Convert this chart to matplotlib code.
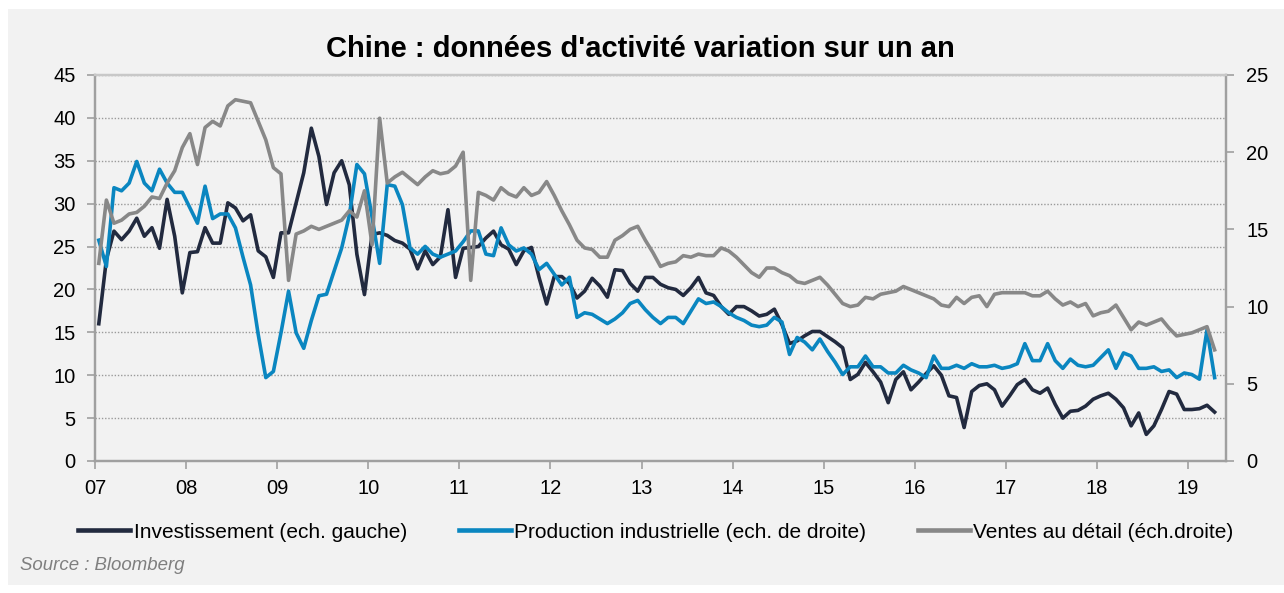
import matplotlib.pyplot as plt
import numpy as np
from matplotlib.patches import Rectangle
from matplotlib.lines import Line2D

plt.rcParams['font.family'] = ['Liberation Sans', 'DejaVu Sans']

title = "Chine : données d'activité variation sur un an"
years = ['07', '08', '09', '10', '11', '12', '13', '14', '15', '16', '17', '18', '19']
labels = ['Investissement (ech. gauche)',
          'Production industrielle (ech. de droite)',
          'Ventes au détail (éch.droite)']
colors = ['#222a3f', '#0a86c0', '#888888']

# monthly values, jan 2007 -> apr 2019
investissement = [
    16.0, 23.5, 26.8, 25.8, 26.8, 28.3, 26.2, 27.2, 24.8, 30.5, 26.2, 19.6,
    24.3, 24.4, 27.2, 25.4, 25.4, 30.1, 29.5, 28.0, 28.7, 24.5, 23.8, 21.4,
    26.6, 26.6, 30.1, 33.6, 38.8, 35.5, 29.9, 33.6, 35.0, 32.2, 24.1, 19.4,
    26.4, 26.6, 26.3, 25.7, 25.4, 24.7, 22.4, 24.5, 22.9, 23.8, 29.3, 21.4,
    24.8, 24.9, 25.0, 26.0, 26.8, 25.2, 24.7, 22.9, 24.5, 24.9, 21.4, 18.3,
    21.5, 21.5, 20.7, 19.0, 19.8, 21.3, 20.4, 19.1, 22.3, 22.2, 20.7, 19.8,
    21.4, 21.4, 20.6, 20.2, 20.0, 19.3, 20.2, 21.4, 19.6, 19.3, 18.0, 17.1,
    18.0, 18.0, 17.5, 16.9, 17.1, 17.7, 15.9, 13.7, 14.0, 14.6, 15.1, 15.1,
    14.5, 13.9, 13.2, 9.5, 10.1, 11.5, 10.4, 9.2, 6.8, 9.5, 10.4, 8.3,
    9.2, 10.2, 11.1, 10.0, 7.6, 7.4, 3.9, 8.1, 8.8, 9.0, 8.3, 6.4,
    7.6, 8.9, 9.5, 8.3, 7.9, 8.5, 6.6, 5.0, 5.8, 5.9, 6.4, 7.2,
    7.6, 7.9, 7.2, 6.2, 4.1, 5.6, 3.1, 4.1, 6.0, 8.1, 7.8, 6.0,
    6.0, 6.1, 6.5, 5.7]

production = [
    14.3, 12.6, 17.7, 17.5, 18.0, 19.4, 18.0, 17.5, 18.9, 18.0, 17.4, 17.4,
    16.4, 15.4, 17.8, 15.7, 16.0, 16.0, 15.1, 13.2, 11.4, 8.2, 5.4, 5.8,
    8.3, 11.0, 8.3, 7.3, 9.1, 10.7, 10.8, 12.3, 13.8, 15.9, 19.2, 18.6,
    15.8, 12.8, 17.9, 17.8, 16.6, 13.8, 13.4, 13.9, 13.4, 13.2, 13.4, 13.6,
    14.2, 14.9, 14.9, 13.4, 13.3, 15.1, 14.0, 13.6, 13.8, 13.4, 12.4, 12.8,
    12.1, 11.4, 11.9, 9.3, 9.6, 9.5, 9.2, 8.9, 9.2, 9.6, 10.2, 10.4,
    9.8, 9.3, 8.9, 9.3, 9.3, 8.9, 9.7, 10.5, 10.2, 10.3, 10.0, 9.6,
    9.3, 9.1, 8.8, 8.7, 8.8, 9.3, 9.0, 6.9, 8.0, 7.7, 7.2, 7.9,
    7.1, 6.4, 5.6, 6.1, 6.1, 6.8, 6.1, 6.1, 5.7, 5.7, 6.2, 5.9,
    5.7, 5.4, 6.8, 6.0, 6.0, 6.2, 6.0, 6.3, 6.1, 6.1, 6.2, 6.0,
    6.1, 6.3, 7.6, 6.5, 6.5, 7.6, 6.5, 6.0, 6.6, 6.2, 6.1, 6.2,
    6.7, 7.2, 6.0, 7.0, 6.8, 6.0, 6.0, 6.1, 5.8, 5.9, 5.4, 5.7,
    5.6, 5.3, 8.5, 5.4]

ventes = [
    12.8, 16.9, 15.4, 15.6, 16.0, 16.1, 16.5, 17.1, 17.0, 18.0, 18.8, 20.3,
    21.2, 19.2, 21.6, 22.0, 21.7, 23.0, 23.4, 23.3, 23.2, 22.0, 20.8, 19.0,
    18.6, 11.7, 14.7, 14.9, 15.2, 15.0, 15.2, 15.4, 15.6, 16.2, 15.8, 17.5,
    14.0, 22.2, 18.0, 18.4, 18.7, 18.3, 17.9, 18.4, 18.8, 18.6, 18.7, 19.1,
    20.0, 11.7, 17.4, 17.2, 16.9, 17.7, 17.3, 17.1, 17.7, 17.2, 17.4, 18.1,
    17.2, 16.2, 15.3, 14.3, 13.8, 13.7, 13.2, 13.2, 14.3, 14.6, 15.0, 15.2,
    14.3, 13.5, 12.6, 12.8, 12.9, 13.3, 13.2, 13.4, 13.3, 13.3, 13.8, 13.6,
    13.2, 12.7, 12.2, 11.9, 12.5, 12.5, 12.2, 12.0, 11.6, 11.5, 11.7, 11.9,
    11.4, 10.8, 10.2, 10.0, 10.1, 10.6, 10.5, 10.8, 10.9, 11.0, 11.3, 11.1,
    10.9, 10.7, 10.5, 10.1, 10.0, 10.6, 10.2, 10.6, 10.7, 10.0, 10.8, 10.9,
    10.9, 10.9, 10.9, 10.7, 10.7, 11.0, 10.5, 10.1, 10.3, 10.0, 10.2, 9.4,
    9.6, 9.7, 10.1, 9.3, 8.5, 9.0, 8.8, 9.0, 9.2, 8.6, 8.1, 8.2,
    8.3, 8.5, 8.7, 7.2]

x = np.arange(len(investissement)) + 0.5

W, H = 1284, 593
fig = plt.figure(figsize=(W / 100, H / 100), dpi=100)
fig.patch.set_facecolor('white')
# grey panel behind everything
fig.patches.append(Rectangle((8 / W, 8 / H), 1 - 8 / W, 1 - 17 / H,
                             transform=fig.transFigure, facecolor='#f2f2f2',
                             edgecolor='none', zorder=-10))

ax = fig.add_axes([95 / W, 1 - 461 / H, (1226 - 95) / W, (461 - 75) / H])
ax.set_facecolor('#f2f2f2')
ax2 = ax.twinx()

ax.plot(x, investissement, color=colors[0], lw=2.6)
ax2.plot(x, production, color=colors[1], lw=2.6)
ax2.plot(x, ventes, color=colors[2], lw=2.6)

ax.set_xlim(0, 149)
ax.set_ylim(0, 45)
ax2.set_ylim(0, 25)
ax.set_yticks(np.arange(0, 46, 5))
ax2.set_yticks(np.arange(0, 26, 5))
ax.set_xticks(np.arange(0, 12 * len(years), 12))
ax.set_xticklabels(years)

ax.yaxis.grid(True, linestyle=(0, (1, 1.3)), color='#9a9a9a', lw=1.0)
ax.set_axisbelow(True)

for a in (ax, ax2):
    for s in ('left', 'bottom', 'right'):
        a.spines[s].set_color('#a0a0a0')
        a.spines[s].set_linewidth(1.6)
    a.spines['top'].set_color('#c8c8c8')
    a.spines['top'].set_linewidth(1.6)

ax.tick_params(axis='y', direction='out', length=6, width=1.2, color='#a0a0a0',
               labelsize=14.5, pad=8)
ax.tick_params(axis='x', direction='out', length=6, width=1.2, color='#a0a0a0',
               labelsize=14.5, pad=7)
ax2.tick_params(axis='y', direction='out', length=6, width=1.2, color='#a0a0a0',
                labelsize=14.5, pad=8.6)

fig.text(640.5 / W, 1 - 49 / H, title, ha='center', va='center',
         fontsize=21, fontweight='bold')

handles = [Line2D([], [], color=c, lw=3.3) for c in colors]
fig.legend(handles, labels, loc='center', bbox_to_anchor=(656 / W, 1 - 532 / H),
           ncol=3, frameon=False, fontsize=15, handlelength=2.5,
           handletextpad=0.15, columnspacing=2.5)

fig.text(20 / W, 1 - 566 / H, 'Source : Bloomberg', style='italic',
         color='#7f7f7f', fontsize=13.4, va='center', ha='left')

fig.savefig('out.png', dpi=100, facecolor=fig.get_facecolor())
